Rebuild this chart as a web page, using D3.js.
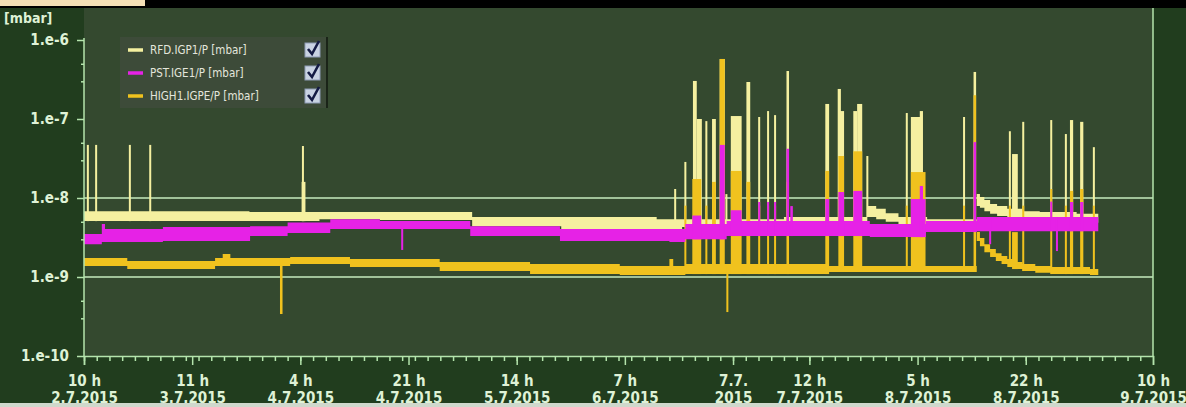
<!DOCTYPE html>
<html>
<head>
<meta charset="utf-8">
<script src="https://cdn.jsdelivr.net/npm/d3@7"></script>
<style>
body{margin:0;background:#213d1e;overflow:hidden;}
svg{display:block;}
</style>
</head>
<body>
<svg id="chart"></svg>
<script>
// time is hours since 18 h 2.7.2015
var tickHours = [0, 17, 34, 51, 68, 85, 102, 114, 131, 148, 168];
var tickTop = ["10 h", "11 h", "4 h", "21 h", "14 h", "7 h", "7.7.", "12 h", "5 h", "22 h", "10 h"];
var tickBottom = ["2.7.2015", "3.7.2015", "4.7.2015", "4.7.2015", "5.7.2015", "6.7.2015", "2015", "7.7.2015", "8.7.2015", "8.7.2015", "9.7.2015"];

var yTicks = [1e-6, 1e-7, 1e-8, 1e-9, 1e-10];
var yTickLabels = ["1.e-6", "1.e-7", "1.e-8", "1.e-9", "1.e-10"];
var yMinor = [5e-7, 3e-7, 5e-8, 3e-8, 5e-9, 3e-9, 5e-10, 3e-10];
var gridValues = [1e-8, 1e-9];

var seriesNames = ["RFD.IGP1/P [mbar]", "PST.IGE1/P [mbar]", "HIGH1.IGPE/P [mbar]"];
var seriesColors = ["#f5f0a0", "#e622e6", "#f0c21e"];

// noise bands (step after): hour, upper, lower
var rfdHours = [0, 26, 37, 46.5, 61, 75, 90, 94, 110, 123.1, 124.5, 126, 128, 132.5, 140.3, 140.8, 141.5, 142.4, 143.5, 145.1, 147.5, 150.2, 156, 159.4];
var rfdHigh = [6.8e-9, 6.65e-9, 6.65e-9, 6.65e-9, 5.75e-9, 5.75e-9, 5.4e-9, 5.4e-9, 5.75e-9, 7.9e-9, 7.3e-9, 6.4e-9, 5.75e-9, 5.4e-9, 1.12e-8, 1.03e-8, 9.4e-9, 8.4e-9, 7.9e-9, 7.3e-9, 6.8e-9, 6.65e-9, 6.3e-9, 6.3e-9];
var rfdLow = [5.1e-9, 5.1e-9, 5.4e-9, 5.25e-9, 4.4e-9, 4.05e-9, 4.05e-9, 4.3e-9, 4.7e-9, 5.75e-9, 5.4e-9, 5.0e-9, 4.7e-9, 4.6e-9, 7.9e-9, 7.5e-9, 6.8e-9, 6.3e-9, 5.9e-9, 5.4e-9, 5.25e-9, 5.1e-9, 4.85e-9, 4.85e-9];

var pstHours = [0, 2.8, 3.3, 12.4, 26.1, 32, 38.7, 46.5, 60.7, 74.8, 92, 94.5, 101, 123.5, 132.3, 140.3, 159.4];
var pstHigh = [3.5e-9, 4.7e-9, 4.05e-9, 4.3e-9, 4.4e-9, 4.9e-9, 5.4e-9, 5.1e-9, 4.4e-9, 4.05e-9, 4.05e-9, 4.7e-9, 5.1e-9, 4.7e-9, 5.1e-9, 5.75e-9, 5.75e-9];
var pstLow = [2.6e-9, 2.77e-9, 2.77e-9, 2.86e-9, 3.3e-9, 3.6e-9, 4.05e-9, 4.05e-9, 3.3e-9, 2.86e-9, 2.77e-9, 3.0e-9, 3.3e-9, 3.2e-9, 3.7e-9, 3.8e-9, 3.8e-9];

var hiHours = [0, 6.8, 20.6, 21.8, 23, 32.4, 41.8, 55.9, 70.1, 84.2, 94.5, 117, 140.3, 140.8, 141.5, 142.4, 143.3, 144.2, 145.1, 146.2, 147.5, 149.5, 152, 158.1, 159.4];
var hiHigh = [1.74e-9, 1.6e-9, 1.74e-9, 1.95e-9, 1.74e-9, 1.79e-9, 1.69e-9, 1.55e-9, 1.46e-9, 1.38e-9, 1.46e-9, 1.38e-9, 3.7e-9, 3.12e-9, 2.6e-9, 2.26e-9, 2.0e-9, 1.85e-9, 1.69e-9, 1.55e-9, 1.46e-9, 1.38e-9, 1.34e-9, 1.26e-9, 1.26e-9];
var hiLow = [1.38e-9, 1.26e-9, 1.38e-9, 1.38e-9, 1.38e-9, 1.46e-9, 1.34e-9, 1.19e-9, 1.09e-9, 1.06e-9, 1.09e-9, 1.16e-9, 2.86e-9, 2.45e-9, 2.06e-9, 1.79e-9, 1.6e-9, 1.46e-9, 1.34e-9, 1.26e-9, 1.19e-9, 1.13e-9, 1.09e-9, 1.06e-9, 1.06e-9];

// spikes: hour, width in hours, peak value
var rfdSpikes = [[0.6,0.3,4.7e-8],[1.9,0.3,4.7e-8],[7.2,0.3,4.7e-8],[10.4,0.3,4.7e-8],[34.4,0.3,4.55e-8],[34.5,0.6,1.6e-8],
  [92.9,0.3,1.3e-8],[94.5,0.3,2.86e-8],[96.0,0.6,3.03e-7],[96.7,0.8,1.0e-7],[97.8,0.3,9.4e-8],[99.0,0.6,1.0e-7],
  [100.3,0.8,5.75e-7],[100.9,0.2,1.12e-8],[102.5,1.7,1.09e-7],[104.4,0.6,2.94e-7],[106.1,0.3,1.06e-7],[107.5,0.3,1.26e-7],
  [108.6,0.3,1.12e-7],[110.6,0.4,4.05e-7],[116.8,0.6,1.55e-7],[118.7,0.5,2.4e-7],[119.0,0.9,1.26e-7],[121.2,0.6,1.26e-7],
  [121.9,0.8,1.55e-7],[123.1,0.3,3.4e-8],[129.3,0.3,1.19e-7],[130.8,1.7,1.06e-7],[131.6,0.5,1.26e-7],[138.3,0.3,1.06e-7],
  [140.0,0.4,3.94e-7],[145.5,0.3,7.0e-8],[146.3,0.9,3.6e-8],[147.6,0.3,9.2e-8],[152.0,0.3,9.7e-8],[154.3,0.3,6.45e-8],
  [155.2,0.5,9.7e-8],[156.8,0.5,9.2e-8],[158.7,0.3,4.4e-8]];

var hiSpikes = [[31.0,0.4,3.4e-10],[92.3,0.6,1.69e-9],[96.3,1.4,1.74e-8],[99.0,0.6,1.6e-8],[100.3,0.8,5.75e-7],[101.1,0.3,3.6e-10],
  [102.5,1.7,2.2e-8],[104.4,0.6,1.6e-8],[110.6,0.4,1.6e-8],[116.8,0.6,2.2e-8],[119.0,0.9,3.4e-8],[121.6,1.4,3.9e-8],
  [131.1,2.3,2.13e-8],[140.0,0.4,2.0e-7],[146.3,0.9,3.7e-9],[152.0,0.3,1.3e-8],[155.2,0.5,1.23e-8],[156.8,0.5,1.3e-8],
  [94.5,0.3,8e-9],[97.8,0.3,8e-9],[106.1,0.3,8e-9],[107.5,0.3,8e-9],[108.6,0.3,8e-9],[129.3,0.3,8e-9],[138.3,0.3,8e-9],
  [145.5,0.3,8e-9],[147.6,0.3,8e-9],[154.3,0.3,8e-9],[158.7,0.3,8e-9]];

var pstSpikes = [[50.0,0.3,2.2e-9],[96.3,1.4,6.0e-9],[100.3,0.8,4.7e-8],[102.5,1.7,7.0e-9],[106.1,0.3,8.9e-9],[107.5,0.3,8.9e-9],
  [108.6,0.3,8.9e-9],[110.6,0.4,4.2e-8],[111.2,0.4,7.9e-9],[116.8,0.6,9.7e-9],[119.0,0.9,1.19e-8],[121.6,1.4,1.23e-8],
  [131.1,2.3,9.7e-9],[131.6,0.5,1.42e-8],[140.0,0.4,5.1e-8],[142.4,0.3,2.6e-9],[152.0,0.3,9.0e-9],[152.9,0.3,2.13e-9],
  [155.2,0.5,8.9e-9],[156.8,0.5,8.9e-9]];

var W = 1186, H = 407;
var svg = d3.select("#chart").attr("width", W).attr("height", H);

var margin = {left: 84, right: 33, top: 40, bottom: 51};
var x = d3.scaleLinear().domain([0, 168]).range([margin.left, W - margin.right]);
var y = d3.scaleLog().domain([1e-10, 1e-6]).range([H - margin.bottom, margin.top]);

var axisColor = "#b4e4ac";
var textColor = "#dff2d6";

// background pieces
svg.append("rect").attr("x", 0).attr("y", 0).attr("width", W).attr("height", H).attr("fill", "#213d1e");
svg.append("rect").attr("x", x(0)).attr("y", 8).attr("width", x(168) - x(0)).attr("height", y(1e-10) - 8).attr("fill", "#34492f");
svg.append("rect").attr("x", 0).attr("y", 0).attr("width", W).attr("height", 8).attr("fill", "#000");
svg.append("rect").attr("x", 0).attr("y", 0).attr("width", 145).attr("height", 6).attr("fill", "#f4dfb6");
svg.append("rect").attr("x", 0).attr("y", H - 4).attr("width", W).attr("height", 4).attr("fill", "#cfd8cc");

// grid lines
svg.selectAll(".grid").data(gridValues).enter().append("line")
   .attr("x1", x(0)).attr("x2", x(168))
   .attr("y1", function(d) { return y(d); }).attr("y2", function(d) { return y(d); })
   .attr("stroke", "#c6ebbf").attr("stroke-width", 1.5);

var plot = svg.append("g");

function drawSeries(hours, high, low, spikes, color)
{
  var rows = hours.map(function(h, i) { return {h: h, hi: high[i], lo: low[i]}; });
  var area = d3.area()
      .curve(d3.curveStepAfter)
      .x(function(d) { return x(d.h); })
      .y0(function(d) { return y(d.lo); })
      .y1(function(d) { return y(d.hi); });
  plot.append("path").datum(rows).attr("d", area).attr("fill", color);

  var bis = d3.bisector(function(d) { return d.h; }).right;
  plot.selectAll(null).data(spikes).enter().append("rect")
      .attr("x", function(d) { return x(d[0] - d[1] / 2); })
      .attr("width", function(d) { return Math.max(2, x(d[1]) - x(0)); })
      .attr("y", function(d) {
        var r = rows[Math.max(0, bis(rows, d[0]) - 1)];
        return d[2] >= r.hi ? y(d[2]) : y(r.hi);
      })
      .attr("height", function(d) {
        var r = rows[Math.max(0, bis(rows, d[0]) - 1)];
        return d[2] >= r.hi ? y(r.lo) - y(d[2]) : y(d[2]) - y(r.hi);
      })
      .attr("fill", color);
}

drawSeries(rfdHours, rfdHigh, rfdLow, rfdSpikes, seriesColors[0]);
drawSeries(hiHours, hiHigh, hiLow, hiSpikes, seriesColors[2]);
drawSeries(pstHours, pstHigh, pstLow, pstSpikes, seriesColors[1]);

// right border
svg.append("line").attr("x1", x(168)).attr("x2", x(168)).attr("y1", 8).attr("y2", y(1e-10))
   .attr("stroke", axisColor).attr("stroke-width", 1.5);

// y axis
var yAxis = d3.axisLeft(y).tickValues(yTicks).tickSize(7).tickFormat(function(d, i) { return yTickLabels[i]; });
var gy = svg.append("g").attr("transform", "translate(" + x(0) + ",0)").call(yAxis);
gy.select(".domain").attr("stroke", axisColor).attr("stroke-width", 1.5).attr("d", "M0," + 38 + "V" + y(1e-10));
gy.selectAll(".tick line").attr("stroke", axisColor).attr("stroke-width", 1.5);
gy.selectAll(".tick text").attr("fill", textColor).attr("x", -15)
  .style("font-family", "'DejaVu Sans Condensed', 'DejaVu Sans', sans-serif")
  .style("font-size", "15px").style("font-weight", "bold");

var gyMinor = svg.append("g").attr("transform", "translate(" + x(0) + ",0)")
   .call(d3.axisLeft(y).tickValues(yMinor).tickSize(3).tickFormat(""));
gyMinor.select(".domain").remove();
gyMinor.selectAll("line").attr("stroke", axisColor).attr("stroke-width", 1.5);

// x axis
var xMinorAxis = d3.axisBottom(x).tickValues(d3.range(0, 168, 2)).tickSize(5).tickFormat("");
var gxm = svg.append("g").attr("transform", "translate(0," + y(1e-10) + ")").call(xMinorAxis);
gxm.select(".domain").remove();
gxm.selectAll("line").attr("stroke", axisColor).attr("stroke-width", 1.5);

var xAxis = d3.axisBottom(x).tickValues(tickHours).tickSize(9).tickFormat("");
var gx = svg.append("g").attr("transform", "translate(0," + y(1e-10) + ")").call(xAxis);
gx.select(".domain").attr("stroke", axisColor).attr("stroke-width", 1.5);
gx.selectAll(".tick line").attr("stroke", axisColor).attr("stroke-width", 1.5);
gx.selectAll(".tick").append("text")
  .attr("fill", textColor).attr("text-anchor", "middle")
  .style("font-family", "'DejaVu Sans Condensed', 'DejaVu Sans', sans-serif")
  .style("font-size", "15px").style("font-weight", "bold")
  .each(function(d, i) {
    var t = d3.select(this);
    t.append("tspan").attr("x", 0).attr("y", 30).text(tickTop[i]);
    t.append("tspan").attr("x", 0).attr("y", 47).text(tickBottom[i]);
  });

// unit
svg.append("text").attr("x", 4).attr("y", 23).text("[mbar]")
   .attr("fill", textColor)
   .style("font-family", "'DejaVu Sans Condensed', 'DejaVu Sans', sans-serif")
   .style("font-size", "14px").style("font-weight", "bold");

// legend
var legend = svg.append("g").attr("transform", "translate(120,37)");
legend.append("rect").attr("width", 207).attr("height", 71).attr("fill", "#3d4b39");
legend.append("line").attr("x1", 207).attr("x2", 207).attr("y1", 0).attr("y2", 71).attr("stroke", "#1a2418").attr("stroke-width", 2);
var items = legend.selectAll(".item").data(seriesNames).enter().append("g")
   .attr("transform", function(d, i) { return "translate(0," + (13 + i * 23) + ")"; });
items.append("line").attr("x1", 8).attr("x2", 23).attr("y1", 0).attr("y2", 0)
   .attr("stroke", function(d, i) { return seriesColors[i]; }).attr("stroke-width", 3.5);
items.append("text").attr("x", 30).attr("y", 4).text(function(d) { return d; })
   .attr("fill", "#e4e6dc")
   .style("font-family", "'DejaVu Sans Condensed', 'DejaVu Sans', sans-serif")
   .style("font-size", "11.5px");
items.append("rect").attr("x", 185).attr("y", -7).attr("width", 15).attr("height", 14)
   .attr("fill", "#c9d3e3").attr("stroke", "#8e9bb6");
items.append("path").attr("d", "M188,-1 L192,4 L199,-9")
   .attr("fill", "none").attr("stroke", "#141b44").attr("stroke-width", 2.6);
</script>
</body>
</html>
